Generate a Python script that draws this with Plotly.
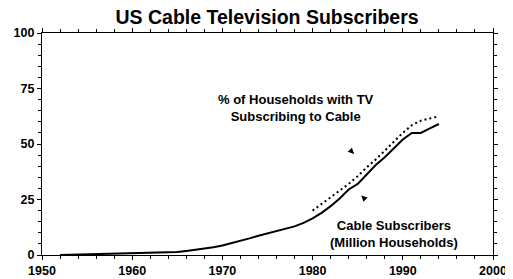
import plotly.graph_objects as go

years_subs = list(range(1952, 1995))
subscribers = [0.0, 0.1, 0.2, 0.3, 0.35, 0.4, 0.45, 0.55, 0.65, 0.72,
               0.85, 0.95, 1.1, 1.3, 1.8, 2.3, 2.9, 3.5, 4.3, 5.3,
               6.5, 7.5, 8.7, 9.8, 10.8, 11.8, 12.9, 14.5, 16.5, 19.0,
               22.0, 25.5, 29.5, 32.0, 36.5, 40.5, 44.0, 48.0, 52.0, 55.0,
               55.0, 57.0, 59.0]

years_pct = list(range(1980, 1995))
pct_households = [20.0, 23.0, 26.0, 29.0, 32.0, 35.5, 39.5, 43.0, 47.0, 51.0,
                  55.0, 58.5, 60.5, 61.5, 62.5]

x_ticks = [1950, 1960, 1970, 1980, 1990, 2000]
y_ticks = [0, 25, 50, 75, 100]

FONT = "Liberation Sans, Arial, sans-serif"

fig = go.Figure()
fig.add_trace(go.Scatter(x=years_subs, y=subscribers, mode="lines",
                         line=dict(color="black", width=2)))
fig.add_trace(go.Scatter(x=years_pct, y=pct_households, mode="lines",
                         line=dict(color="black", width=2, dash="2px,3px")))

axis_common = dict(showline=True, linecolor="black", linewidth=1.2, mirror="ticks",
                   ticks="outside", ticklen=4, tickcolor="black", showgrid=False,
                   zeroline=False, automargin=False,
                   tickfont=dict(family=FONT, size=12.5, color="black"))

fig.update_xaxes(range=[1950, 2000], tickvals=x_ticks,
                 ticktext=["<b>%d</b>" % v for v in x_ticks],
                 minor=dict(dtick=2, tick0=1950, ticks="outside", ticklen=3, tickcolor="black"),
                 **axis_common)
fig.update_yaxes(range=[0, 100], tickvals=y_ticks,
                 ticktext=["<b>%d</b>" % v for v in y_ticks],
                 minor=dict(dtick=5, tick0=0, ticks="outside", ticklen=3, tickcolor="black"),
                 **axis_common)

fig.add_annotation(x=1978.2, y=66.2, text="<b>% of Households with TV<br>Subscribing to Cable</b>",
                   showarrow=False, font=dict(family=FONT, size=13, color="black"))
fig.add_annotation(x=1989.0, y=9.3, text="<b>Cable Subscribers<br>(Million Households)</b>",
                   showarrow=False, font=dict(family=FONT, size=13, color="black"))
fig.add_annotation(x=1984.6, y=45.5, ax=-3, ay=-3, showarrow=True, arrowhead=2,
                   arrowsize=0.8, arrowwidth=1.5, arrowcolor="black", text="")
fig.add_annotation(x=1985.4, y=26.8, ax=3, ay=3, showarrow=True, arrowhead=2,
                   arrowsize=0.8, arrowwidth=1.5, arrowcolor="black", text="")

# the page body adds an 8px offset, so the figure is sized to fit the window
fig.update_layout(
    width=505, height=271,
    margin=dict(l=34, r=20, t=25, b=24),
    paper_bgcolor="white", plot_bgcolor="white",
    showlegend=False,
    title=dict(text="<b>US Cable Television Subscribers</b>", x=0.513, xanchor="center",
               y=0.967, yanchor="middle", font=dict(family=FONT, size=19.5, color="black")),
)

fig.write_html("out.html")
